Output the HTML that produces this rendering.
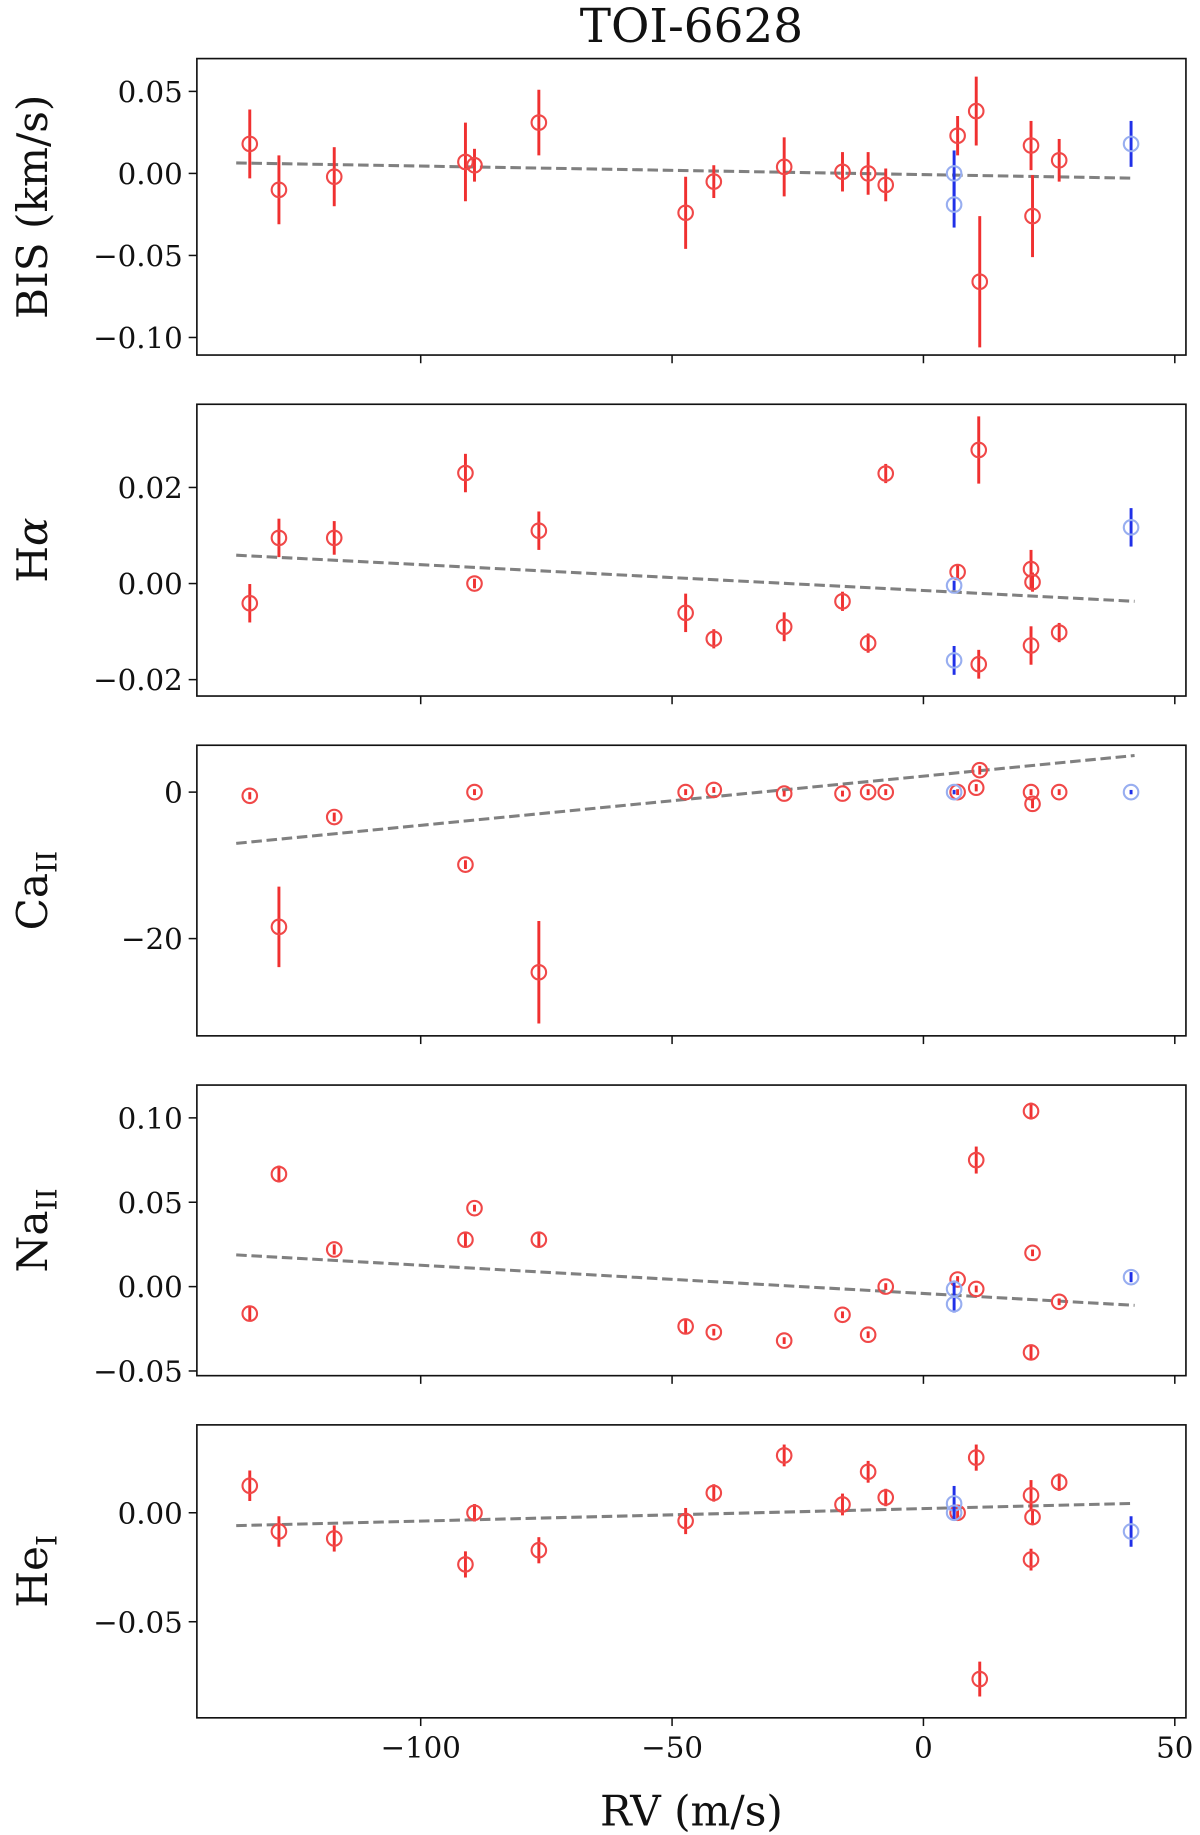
<!DOCTYPE html>
<html><head><meta charset="utf-8"><style>html,body{margin:0;padding:0;background:#fff}svg{display:block}text{font-family:"DejaVu Serif","Liberation Serif",serif;fill:#111}</style></head>
<body>
<svg id="fig" width="1200" height="1835" viewBox="0 0 1024 1566" preserveAspectRatio="none" xmlns="http://www.w3.org/2000/svg">
<text x="590" y="36" font-size="40" text-anchor="middle">TOI-6628</text>
</svg>
<script>
const xTicks = [-100, -50, 0, 50];
const redRV = [-134.0,-128.2,-117.2,-91.1,-89.3,-76.5,-47.3,-41.7,-27.7,-16.1,-11.0,-7.5,6.8,10.5,11.2,21.4,21.7,27.0];
const blueRV = [6.1,6.1,41.3];
const fitRV = [-136.7, 42.0];

const bisVal=[0.018,-0.010,-0.002,0.007,0.005,0.031,-0.024,-0.005,0.004,0.001,0.000,-0.007,0.023,0.038,-0.066,0.017,-0.026,0.008];
const bisErr=[0.021,0.021,0.018,0.024,0.010,0.020,0.022,0.010,0.018,0.012,0.013,0.010,0.012,0.021,0.040,0.015,0.025,0.013];
const bisBlue=[0.000,-0.019,0.018]; const bisBlueErr=[0.014,0.014,0.014]; const bisFit=[0.0064,-0.0029];
const bisTicks=[0.05,0.00,-0.05,-0.10]; const bisTickLabels=["0.05","0.00","\u22120.05","\u22120.10"];

const haRV=[-134.0,-128.2,-117.2,-91.1,-89.3,-76.5,-47.3,-41.7,-27.7,-16.1,-11.0,-7.5,6.8,11.0,11.0,21.4,21.7,21.4,27.0];
const haVal2=[-0.0041,0.0095,0.0095,0.023,0.000,0.011,-0.0061,-0.0115,-0.009,-0.0037,-0.0124,0.0229,0.0024,0.0278,-0.0168,0.003,0.0003,-0.0129,-0.0102];
const haErr=[0.004,0.004,0.0035,0.004,0.001,0.004,0.004,0.002,0.003,0.002,0.002,0.002,0.0015,0.007,0.003,0.004,0.002,0.004,0.002];
const haBlue=[-0.0004,-0.016,0.0117]; const haBlueErr=[0.001,0.003,0.004]; const haFit=[0.0059,-0.0037];
const haTicks=[0.02,0.00,-0.02]; const haTickLabels=["0.02","0.00","\u22120.02"];

const caRV=[-134.0,-128.2,-117.2,-89.3,-91.1,-76.5,-47.3,-41.7,-27.7,-16.1,-11.0,-7.5,6.8,10.5,11.2,21.4,21.7,27.0];
const caVal=[-0.5,-18.4,-3.4,0,-9.9,-24.6,0,0.3,-0.2,-0.2,0,0,0,0.6,3.0,0,-1.6,0];
const caErr=[0.5,5.5,0.6,0.4,0.6,7.0,0.4,0.4,0.4,0.4,0.4,0.4,0.4,0.5,0.6,0.4,0.6,0.4];
const caBlueRV=[6.1,41.3]; const caBlue=[0,0]; const caBlueErr=[0.3,0.3]; const caFit=[-7.0,5.0];
const caTicks=[0,-20]; const caTickLabels=["0","\u221220"];

const naRV=[-134.0,-128.2,-117.2,-91.1,-89.3,-76.5,-47.3,-41.7,-27.7,-16.1,-11.0,-7.5,6.8,10.5,10.5,21.4,21.7,21.4,27.0];
const naVal=[-0.016,0.0667,0.022,0.0278,0.0465,0.0278,-0.0236,-0.027,-0.032,-0.0167,-0.0285,0.000,0.0042,0.075,-0.0014,0.104,0.020,-0.039,-0.009];
const naErr=[0.004,0.005,0.003,0.004,0.002,0.004,0.004,0.002,0.002,0.002,0.002,0.002,0.002,0.008,0.002,0.005,0.002,0.004,0.002];
const naBlue=[-0.0014,-0.0104,0.0056]; const naBlueErr=[0.005,0.005,0.003]; const naFit=[0.0188,-0.0111];
const naTicks=[0.10,0.05,0.00,-0.05]; const naTickLabels=["0.10","0.05","0.00","\u22120.05"];

const heRV=[-134.0,-128.2,-117.2,-91.1,-89.3,-76.5,-47.3,-41.7,-27.7,-16.1,-11.0,-7.5,6.8,10.5,11.2,21.4,21.7,21.4,27.0];
const heVal=[0.0124,-0.0086,-0.0118,-0.0237,0,-0.0172,-0.0038,0.0091,0.0263,0.0038,0.0188,0.007,0,0.0253,-0.0763,0.008,-0.002,-0.0215,0.014];
const heErr=[0.007,0.007,0.006,0.006,0.004,0.006,0.006,0.004,0.005,0.005,0.005,0.004,0.003,0.006,0.008,0.007,0.003,0.005,0.004];
const heBlue=[0.0043,0,-0.0086]; const heBlueErr=[0.008,0.003,0.007]; const heFit=[-0.0059,0.0043];
const heTicks=[0.00,-0.05]; const heTickLabels=["0.00","\u22120.05"];

const NS="http://www.w3.org/2000/svg";
const svg=document.getElementById('fig');
const X0=788, XS=4.29, L=168, R=1012;
function xs(v){return X0+v*XS;}
function mk(t,a,p){const e=document.createElementNS(NS,t);for(const k in a)e.setAttribute(k,a[k]);(p||svg).appendChild(e);return e;}

const panels=[
 {key:'bis',top:50,bot:303,y0:148,ys:1400,rv:redRV,val:bisVal,err:bisErr,brv:blueRV,bv:bisBlue,be:bisBlueErr,fit:bisFit,ticks:bisTicks,tl:bisTickLabels,label:'BIS (km/s)'},
 {key:'halpha',top:345,bot:594,y0:498,ys:4100,rv:haRV,val:haVal2,err:haErr,brv:blueRV,bv:haBlue,be:haBlueErr,fit:haFit,ticks:haTicks,tl:haTickLabels,label:'Ha'},
 {key:'ca',top:636,bot:884,y0:676,ys:6.25,rv:caRV,val:caVal,err:caErr,brv:caBlueRV,bv:caBlue,be:caBlueErr,fit:caFit,ticks:caTicks,tl:caTickLabels,label:'Ca'},
 {key:'na',top:926,bot:1174,y0:1098,ys:1440,rv:naRV,val:naVal,err:naErr,brv:blueRV,bv:naBlue,be:naBlueErr,fit:naFit,ticks:naTicks,tl:naTickLabels,label:'Na'},
 {key:'he',top:1216,bot:1466,y0:1291,ys:1860,rv:heRV,val:heVal,err:heErr,brv:blueRV,bv:heBlue,be:heBlueErr,fit:heFit,ticks:heTicks,tl:heTickLabels,label:'He'}
];

panels.forEach((p,pi)=>{
 const g=mk('g',{});
 
 
 const ysf=v=>p.y0-v*p.ys;
 const fl=mk('line',{x1:xs(fitRV[0]),y1:ysf(p.fit[0]),x2:xs(fitRV[1]),y2:ysf(p.fit[1]),stroke:'#808080','stroke-width':2.6,'stroke-dasharray':'9,4'},g);
 
 
 p.rv.forEach((r,i)=>{
  const cx=xs(r), cy=ysf(p.val[i]), e=p.err[i]*p.ys;
  const eb=mk('line',{x1:cx,x2:cx,y1:cy-e,y2:cy+e,stroke:'#f03030','stroke-width':2.5},g);
  
  
  const c=mk('circle',{cx:cx,cy:cy,r:6.2,fill:'none',stroke:'#f04848','stroke-width':1.8},g);
  
  
 });
 p.brv.forEach((r,i)=>{
  const cx=xs(r), cy=ysf(p.bv[i]), e=p.be[i]*p.ys;
  const eb=mk('line',{x1:cx,x2:cx,y1:cy-e,y2:cy+e,stroke:'#2030e8','stroke-width':2.5},g);
  
  
  const c=mk('circle',{cx:cx,cy:cy,r:6.2,fill:'none',stroke:'#98aef0','stroke-width':1.8},g);
  
  
 });
 const fr=mk('rect',{x:L,y:p.top,width:R-L,height:p.bot-p.top,fill:'none',stroke:'#111','stroke-width':1.4},g);
 
 
 p.ticks.forEach((t,i)=>{
  const y=ysf(t);
  mk('line',{x1:L-7,x2:L,y1:y,y2:y,stroke:'#111','stroke-width':1.3},g);
  const tx=mk('text',{x:L-12,y:y+9,'font-size':25,'text-anchor':'end'},g);
  tx.textContent=p.tl[i];
  
  
 });
 xTicks.forEach(t=>{
  const x=xs(t);
  mk('line',{x1:x,x2:x,y1:p.bot,y2:p.bot+7,stroke:'#111','stroke-width':1.3},g);
  if(pi===panels.length-1){
   const tx=mk('text',{x:x,y:p.bot+34,'font-size':25,'text-anchor':'middle'},g);
   tx.textContent=(t<0?'\u2212'+(-t):String(t));
   
   
  }
 });
 const cy=(p.top+p.bot)/2;
 const lab=mk('text',{x:0,y:0,'font-size':36,'text-anchor':'middle',transform:`translate(40,${cy}) rotate(-90)`},g);
 
 
 if(p.key==='halpha'){lab.innerHTML='H<tspan font-style="italic">α</tspan>';}
 else if(p.key==='ca'){lab.innerHTML='Ca<tspan font-size="24" dy="8">II</tspan>';}
 else if(p.key==='na'){lab.innerHTML='Na<tspan font-size="24" dy="8">II</tspan>';}
 else if(p.key==='he'){lab.innerHTML='He<tspan font-size="24" dy="8">I</tspan>';}
 else lab.textContent=p.label;
});
const xt=mk('text',{x:590,y:1558,'font-size':36,'text-anchor':'middle'});
xt.textContent='RV (m/s)';


</script>
</body></html>
